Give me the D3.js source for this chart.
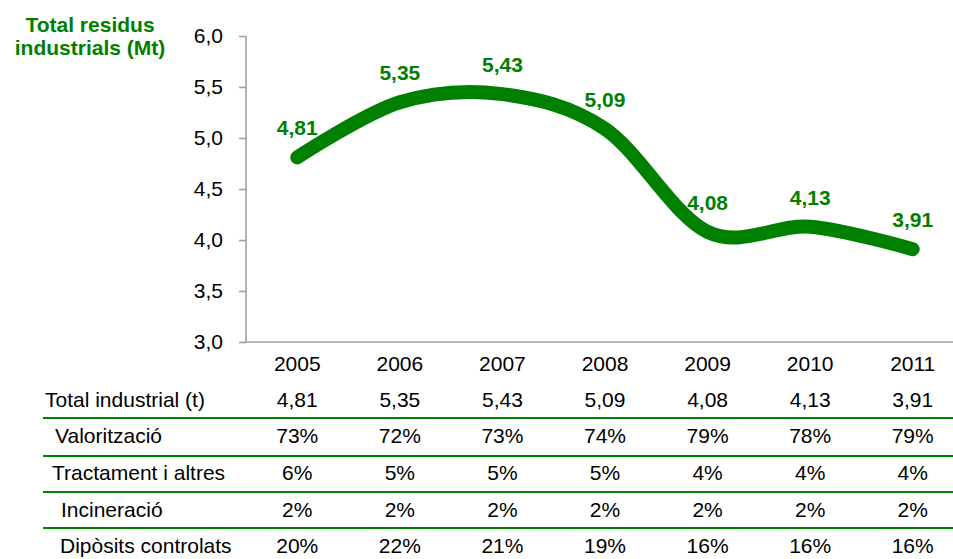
<!DOCTYPE html>
<html>
<head>
<meta charset="utf-8">
<script src="https://cdn.jsdelivr.net/npm/d3@7"></script>
<style>
  body { margin: 0; background: #fff; }
  svg { display: block; font-family: "Liberation Sans", Arial, sans-serif; }
</style>
</head>
<body>
<div id="chart"></div>
<script>
const years = ["2005", "2006", "2007", "2008", "2009", "2010", "2011"];
const totals = [4.81, 5.35, 5.43, 5.09, 4.08, 4.13, 3.91];
const yTicks = [3.0, 3.5, 4.0, 4.5, 5.0, 5.5, 6.0];

const rowLabels = ["Total industrial (t)", "Valorització", "Tractament i altres", "Incineració", "Dipòsits controlats"];
const valoritzacio = [73, 72, 73, 74, 79, 78, 79];
const tractament = [6, 5, 5, 5, 4, 4, 4];
const incineracio = [2, 2, 2, 2, 2, 2, 2];
const diposits = [20, 22, 21, 19, 16, 16, 16];

const width = 953, height = 559;
const green = "#008000", axisGrey = "#a0a0a0";
const fs = 21;
const fmt = d3.format(".2f"), fmt1 = d3.format(".1f");
const comma = s => s.replace(".", ",");

const svg = d3.select("#chart").append("svg")
    .attr("width", width)
    .attr("height", height);

const x = d3.scaleBand().domain(years).range([246, 964]).padding(0);
const cx = d => x(d) + x.bandwidth() / 2;
const y = d3.scaleLinear().domain([3, 6]).range([342, 36]);

// title
svg.append("text")
    .attr("x", 90).attr("y", 32)
    .attr("text-anchor", "middle")
    .attr("fill", green).attr("font-weight", "bold").attr("font-size", fs)
    .selectAll("tspan")
    .data(["Total residus", "industrials (Mt)"])
    .enter().append("tspan")
    .attr("x", 90)
    .attr("dy", (d, i) => i ? 23 : 0)
    .text(d => d);

// y axis
const yAxis = svg.append("g")
    .attr("transform", "translate(246,0)")
    .call(d3.axisLeft(y).tickValues(yTicks).tickSize(7).tickPadding(16).tickFormat(d => comma(fmt1(d))));
yAxis.select(".domain").attr("stroke", axisGrey).attr("stroke-width", 1.6)
    .attr("d", `M0,${y(6)}V${y(3)}`);
yAxis.selectAll(".tick line").attr("stroke", axisGrey).attr("stroke-width", 1.6);
yAxis.selectAll(".tick text").attr("font-size", fs).attr("fill", "#000")
    .attr("font-family", "Liberation Sans, Arial, sans-serif");

// x axis line
svg.append("line")
    .attr("x1", 246).attr("x2", width)
    .attr("y1", y(3)).attr("y2", y(3))
    .attr("stroke", axisGrey).attr("stroke-width", 1.6);

// year labels
svg.append("g").selectAll("text")
    .data(years)
    .enter().append("text")
    .attr("x", d => cx(d)).attr("y", 371)
    .attr("text-anchor", "middle").attr("font-size", fs)
    .text(d => d);

// smoothed line
const line = d3.line()
    .x((d, i) => cx(years[i]))
    .y(d => y(d))
    .curve(d3.curveCardinal.tension(0));

svg.append("path")
    .datum(totals)
    .attr("d", line)
    .attr("fill", "none")
    .attr("stroke", green)
    .attr("stroke-width", 14)
    .attr("stroke-linecap", "round");

// point labels
svg.append("g").selectAll("text")
    .data(totals)
    .enter().append("text")
    .attr("x", (d, i) => cx(years[i]))
    .attr("y", d => y(d) - 22)
    .attr("text-anchor", "middle")
    .attr("fill", green).attr("font-weight", "bold").attr("font-size", fs)
    .text(d => comma(fmt(d)));

// table below
const rows = [
    totals.map(d => comma(fmt(d))),
    valoritzacio.map(d => d + "%"),
    tractament.map(d => d + "%"),
    incineracio.map(d => d + "%"),
    diposits.map(d => d + "%")
];
const rowBase = [407, 443, 480, 517, 553];
const rowIndent = [45, 55, 52, 61, 60];
const sepY = [418, 456, 492, 528];

svg.append("g").selectAll("line")
    .data(sepY)
    .enter().append("line")
    .attr("x1", 43).attr("x2", width)
    .attr("y1", d => d).attr("y2", d => d)
    .attr("stroke", green).attr("stroke-width", 2);

const tr = svg.append("g").selectAll("g")
    .data(rows)
    .enter().append("g");

tr.append("text")
    .attr("x", (d, i) => rowIndent[i])
    .attr("y", (d, i) => rowBase[i])
    .attr("font-size", fs)
    .text((d, i) => rowLabels[i]);

tr.each(function(row, i) {
    d3.select(this).selectAll(".cell")
        .data(row)
        .enter().append("text")
        .attr("class", "cell")
        .attr("x", (d, j) => cx(years[j]))
        .attr("y", rowBase[i])
        .attr("text-anchor", "middle")
        .attr("font-size", fs)
        .text(d => d);
});
</script>
</body>
</html>
